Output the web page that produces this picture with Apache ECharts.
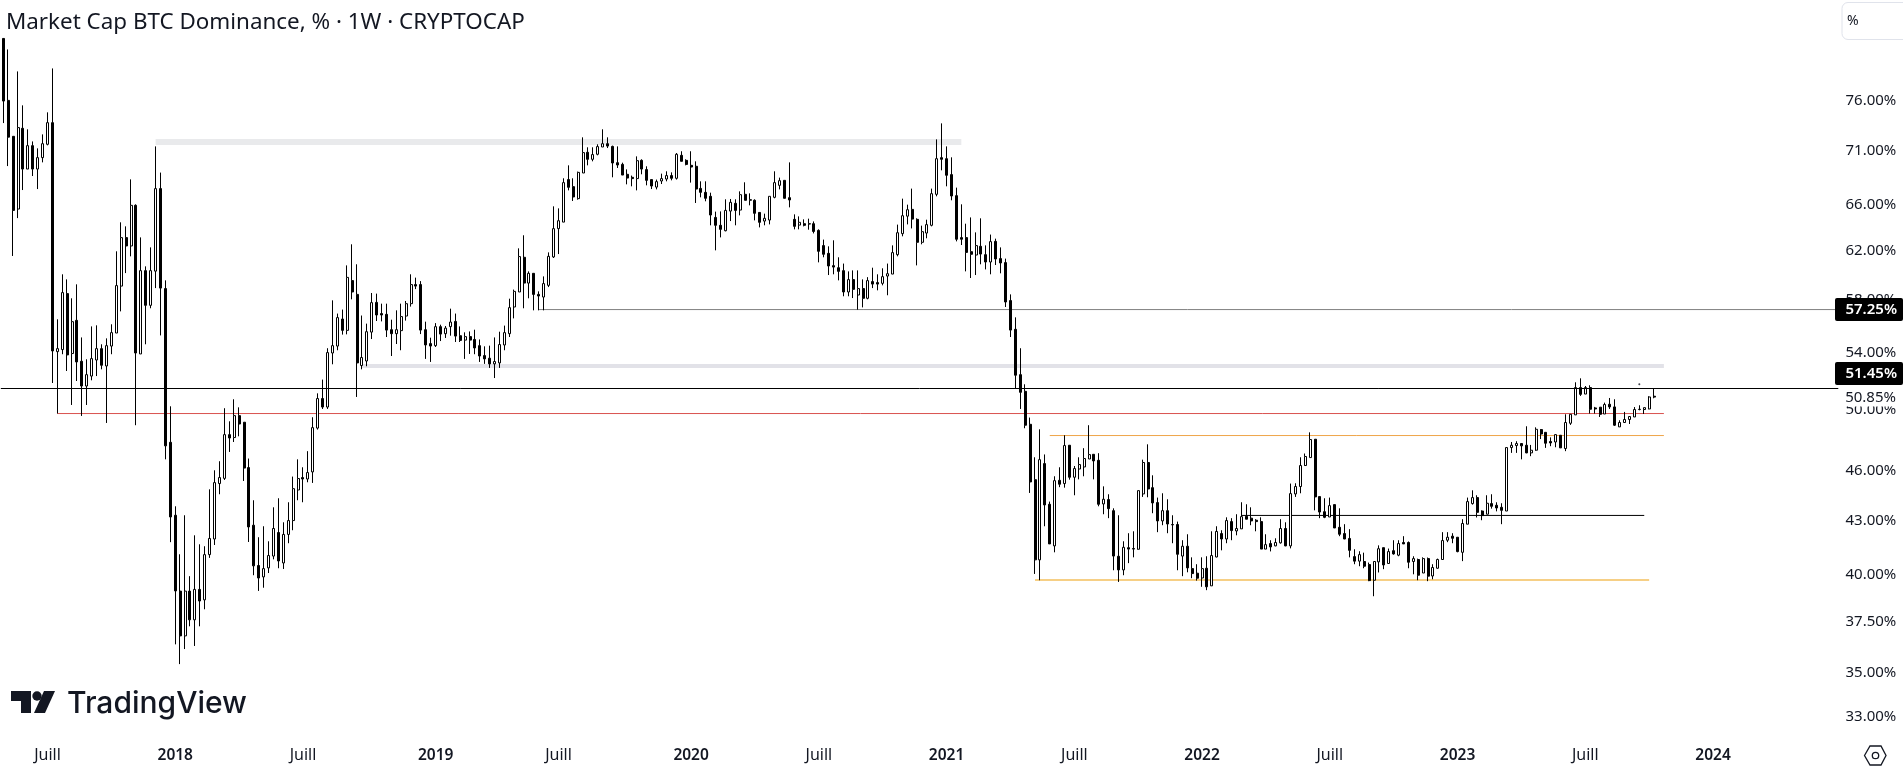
<!DOCTYPE html>
<html>
<head>
<meta charset="utf-8">
<title>Market Cap BTC Dominance</title>
<script src="https://cdn.jsdelivr.net/npm/echarts@6/dist/echarts.min.js"></script>
<style>
  html, body { margin: 0; padding: 0; background: #fff; }
  #chart { width: 1903px; height: 772px; }
</style>
</head>
<body>
<div id="chart"></div>
<script>
// weekly BTC dominance
const opens = [
  82.65,76.00,72.39,65.60,73.18,69.25,71.48,69.25,70.33,71.61,
  73.74,54.08,54.23,58.50,53.94,56.42,53.38,51.62,52.32,53.47,
  54.30,53.04,54.49,55.46,59.10,63.11,62.40,65.93,53.91,60.35,
  57.58,60.31,67.44,58.90,47.83,43.33,39.10,36.80,39.10,37.61,
  39.19,38.64,41.08,41.96,45.23,45.55,48.33,48.14,49.59,49.15,
  46.22,42.75,40.48,39.86,40.35,41.00,42.33,40.62,42.22,43.02,
  44.84,45.60,45.51,45.95,48.76,50.75,50.17,53.98,54.49,56.52,
  55.66,59.54,58.44,53.07,53.40,55.53,57.81,56.94,56.88,55.71,
  55.41,55.64,56.75,57.71,59.22,59.22,55.71,54.67,54.52,55.94,
  55.41,55.94,56.34,55.26,54.93,55.19,54.98,54.52,53.79,53.60,
  53.19,53.26,54.57,55.41,57.45,58.63,61.45,59.34,60.13,58.44,
  58.23,59.16,61.48,63.88,64.45,68.27,67.62,66.53,68.88,70.84,
  70.17,70.65,71.35,71.67,71.41,69.85,69.69,68.76,68.48,68.36,
  70.07,69.20,68.27,67.58,68.14,68.32,68.64,68.39,70.55,70.07,
  69.60,69.51,67.46,67.10,66.74,64.86,64.17,63.70,65.42,66.11,
  65.51,66.92,66.38,66.38,65.30,64.54,64.63,66.65,67.74,68.20,
  66.62,64.69,64.19,64.31,64.28,64.31,63.73,62.43,61.78,60.76,
  60.59,60.35,58.63,59.62,58.39,58.90,58.13,59.46,59.38,59.32,
  59.91,60.07,61.67,63.45,64.97,65.57,64.69,62.71,63.50,64.17,
  66.92,70.33,70.23,68.73,66.80,63.11,63.11,61.92,61.64,62.37,
  61.67,61.06,62.79,61.34,61.01,57.95,55.74,52.42,51.25,49.01,
  45.47,40.79,46.47,43.98,41.57,45.43,45.23,47.64,45.62,46.13,
  46.26,46.76,47.06,46.68,44.00,44.26,43.60,40.99,40.24,41.47,
  41.42,41.38,44.60,46.54,44.98,44.08,43.00,43.60,42.79,42.79,
  41.00,41.55,40.31,40.06,39.80,40.33,39.38,40.95,42.27,41.96,
  42.96,42.42,42.54,43.27,43.16,43.04,42.96,41.39,41.70,41.57,
  41.74,42.56,41.57,44.60,45.05,46.35,46.85,48.03,44.44,43.54,
  43.23,43.96,42.63,42.27,41.99,40.97,40.72,40.70,40.53,39.68,
  40.68,41.47,40.59,41.30,41.05,41.76,41.76,40.70,40.81,40.07,
  40.86,39.91,40.33,40.81,41.89,42.12,42.06,41.21,42.81,44.02,
  44.38,43.58,43.39,44.02,43.92,43.80,43.58,47.49,47.62,47.75,
  47.64,47.15,47.32,48.66,48.48,47.88,47.85,48.29,47.43,49.08,
  49.64,51.51,51.06,51.51,50.11,50.16,49.70,50.36,50.18,48.84,
  49.13,49.33,49.50,50.00,50.00,50.04,50.91
]
const closes = [
  75.93,72.31,65.48,73.25,69.25,71.48,69.25,70.33,71.67,73.74,
  54.13,54.30,58.58,53.84,56.32,53.33,51.62,52.42,53.57,54.30,
  53.09,54.52,55.49,59.14,63.11,62.40,65.93,53.98,60.35,57.58,
  60.35,67.44,58.94,47.60,43.23,39.11,36.80,39.10,37.61,39.19,
  38.58,41.08,41.99,45.29,45.60,48.33,48.11,49.59,49.03,46.19,
  42.65,40.46,39.80,40.31,41.03,42.56,40.73,42.22,43.02,44.92,
  45.54,45.51,45.91,48.79,50.75,50.17,54.01,54.52,56.63,55.66,
  59.80,58.63,53.26,53.65,55.56,57.79,56.83,56.83,55.68,55.41,
  55.71,56.71,57.71,59.22,59.10,55.68,54.57,54.49,55.94,55.38,
  55.83,56.29,55.23,54.91,55.19,54.93,54.35,53.76,53.55,53.19,
  53.36,54.60,55.49,57.40,58.68,61.51,59.34,60.13,58.44,58.31,
  59.30,61.53,63.88,64.57,67.99,67.56,66.68,68.94,70.81,70.17,
  70.62,71.39,71.67,71.44,69.82,69.63,68.69,68.41,68.36,70.04,
  69.25,68.20,67.68,68.08,68.36,68.64,68.39,70.65,69.98,69.69,
  69.44,67.40,67.10,66.56,65.07,64.17,63.82,65.48,66.20,65.48,
  66.89,66.38,66.44,65.22,64.43,64.78,66.74,67.99,68.17,66.56,
  66.41,64.08,64.43,64.17,64.31,63.64,61.95,61.70,60.73,60.64,
  60.29,58.63,59.62,58.84,58.90,58.13,59.54,59.26,59.26,59.86,
  60.10,61.84,63.53,65.01,65.54,64.71,62.71,63.62,64.23,66.98,
  70.23,70.17,68.67,66.77,62.97,62.97,61.86,61.70,62.43,61.72,
  61.06,62.77,61.31,60.98,57.84,55.68,52.38,51.18,48.95,45.33,
  40.79,46.72,43.94,41.68,45.41,45.19,47.62,45.62,46.16,46.41,
  46.79,47.04,46.64,43.98,44.28,43.72,41.00,40.24,41.49,41.39,
  41.39,44.80,46.54,44.90,44.06,43.00,43.60,42.82,42.77,41.10,
  41.55,40.35,40.04,39.79,40.31,39.33,41.03,42.39,41.96,43.02,
  42.44,42.56,43.25,43.10,43.00,42.96,41.39,41.64,41.51,41.76,
  42.56,41.57,44.62,45.05,46.35,46.92,48.01,44.42,43.52,43.21,
  43.90,42.59,42.23,41.96,41.32,40.72,41.08,40.44,39.66,40.70,
  41.41,40.51,41.25,41.12,41.70,41.68,40.66,40.86,39.95,40.86,
  39.90,40.37,40.81,41.87,42.06,42.00,41.25,42.85,44.14,44.38,
  43.50,43.31,44.04,43.86,43.76,43.62,47.49,47.64,47.75,47.60,
  47.15,47.32,48.68,48.37,47.77,47.79,48.33,47.47,49.13,49.68,
  51.51,51.04,51.51,50.02,50.04,49.68,50.34,50.18,48.95,49.13,
  49.33,49.53,50.00,50.02,50.13,50.86,50.85
]
const lows = [
  73.70,69.53,61.56,64.80,67.31,69.25,68.60,67.40,69.88,71.51,
  51.83,49.73,53.89,52.68,50.31,51.97,49.57,50.31,52.02,52.32,
  52.80,49.10,53.89,55.46,57.11,60.15,61.53,48.95,53.91,54.62,
  57.35,58.94,55.28,46.74,41.78,36.38,35.42,36.15,37.28,36.30,
  37.28,38.15,40.90,41.62,44.58,45.45,47.21,47.85,48.22,45.39,
  41.79,39.95,39.11,39.28,40.07,40.82,40.33,40.29,41.72,42.46,
  44.22,44.10,45.31,45.27,48.66,50.04,50.04,53.16,54.18,55.34,
  55.36,58.05,50.86,52.80,53.02,55.01,56.37,56.34,55.16,53.76,
  54.64,54.18,56.40,57.48,58.86,55.38,53.55,53.33,54.42,54.86,
  55.09,55.26,54.79,54.79,53.55,53.91,53.89,53.33,53.19,52.90,
  52.18,52.90,54.18,55.16,56.57,58.63,57.35,58.13,57.19,57.19,
  57.19,59.02,61.39,61.72,64.45,67.28,66.32,66.44,68.88,69.60,
  69.98,70.55,71.35,71.25,68.48,69.35,68.69,67.83,67.65,67.28,
  68.76,67.74,67.40,67.37,67.86,68.11,68.20,68.27,69.98,69.60,
  67.99,66.14,66.65,66.29,64.17,62.03,63.13,63.65,64.54,64.17,
  65.04,66.38,65.93,64.60,63.99,64.17,64.25,66.56,67.37,66.56,
  65.75,63.82,63.82,64.08,63.79,63.47,61.03,61.45,59.99,60.05,
  59.56,58.29,58.29,58.15,57.24,57.42,58.05,58.94,58.76,59.16,
  58.37,60.07,61.53,63.22,64.25,63.90,60.78,62.54,63.05,64.08,
  66.74,69.13,67.65,66.38,62.79,62.48,60.29,59.75,59.99,60.87,
  60.45,60.05,60.81,60.13,57.45,55.16,51.41,50.04,48.75,44.66,
  40.02,39.68,42.69,41.68,41.21,45.01,44.98,45.47,44.52,45.49,
  45.68,46.76,45.49,43.86,43.39,43.16,40.22,39.59,39.95,40.61,
  40.93,41.36,44.42,44.40,43.45,42.35,42.75,42.29,41.72,40.22,
  39.90,40.11,39.79,39.66,39.33,39.15,39.38,40.93,41.32,41.72,
  41.89,42.17,42.54,43.10,42.75,42.40,41.39,41.39,41.26,41.55,
  41.70,41.55,41.43,44.42,44.64,46.32,46.85,43.62,43.16,43.16,
  43.23,42.59,42.12,41.95,40.93,40.55,40.44,40.33,39.63,38.83,
  40.10,40.28,40.59,41.08,40.99,41.68,40.33,40.00,39.68,40.07,
  39.63,39.73,40.31,40.81,41.78,41.72,41.21,40.72,42.81,43.96,
  43.20,43.04,43.39,43.72,43.56,42.81,43.58,47.15,47.15,46.74,
  47.13,46.94,47.28,48.04,47.47,47.58,47.51,47.47,47.26,48.97,
  49.64,50.93,51.06,49.73,49.73,49.50,49.70,50.04,48.90,48.84,
  49.10,49.03,49.50,49.95,49.70,50.02,50.77
]
const highs = [
  82.65,81.43,72.39,79.04,75.49,73.08,71.89,71.22,72.58,74.78,
  79.36,56.50,60.05,59.64,58.13,59.24,55.13,53.52,55.96,56.04,
  54.62,55.06,56.12,61.95,64.43,64.08,68.29,66.02,63.13,60.70,
  62.28,71.41,68.92,59.56,50.22,43.86,41.10,43.33,39.90,42.17,
  41.66,41.55,44.88,46.05,46.62,50.09,49.21,50.70,50.15,49.15,
  46.79,44.22,42.06,42.69,41.83,43.80,44.34,42.92,44.10,45.66,
  46.74,46.24,47.26,49.48,51.11,52.07,54.33,57.97,56.94,57.25,
  60.78,62.54,60.87,56.79,56.17,58.55,58.50,57.71,57.71,56.47,
  57.19,57.71,57.92,60.05,59.78,59.50,56.32,55.11,56.21,56.09,
  55.99,57.32,56.94,55.96,55.51,55.58,55.71,54.98,54.47,54.52,
  55.13,55.56,56.02,58.10,58.82,62.20,63.31,60.29,60.13,58.68,
  59.88,61.86,65.84,65.66,68.39,69.60,68.39,69.01,72.29,71.32,
  71.32,71.61,73.08,72.29,71.48,71.41,69.85,69.22,68.64,70.45,
  70.17,69.51,68.27,68.27,68.82,69.04,68.94,70.77,70.94,70.17,
  70.94,69.98,68.11,68.11,67.07,65.37,65.39,66.47,66.50,66.47,
  67.19,68.02,67.01,66.47,65.30,65.19,66.74,69.04,68.45,68.20,
  69.88,65.13,64.95,64.69,64.75,64.51,63.82,62.94,62.37,62.88,
  61.45,60.93,60.29,60.37,60.37,59.64,59.82,60.59,60.05,60.54,
  60.93,62.45,64.23,66.53,65.99,67.44,64.78,64.14,64.66,67.44,
  72.09,73.67,71.41,70.36,67.53,66.02,64.31,64.86,63.56,64.78,
  62.45,63.37,63.02,62.28,61.34,58.44,56.65,54.33,51.74,49.46,
  46.87,48.68,47.05,44.14,45.68,46.24,48.29,47.64,46.32,46.87,
  47.45,48.95,47.06,47.13,45.06,44.58,43.74,43.33,41.83,42.29,
  42.40,44.80,46.72,47.70,45.74,44.38,44.64,44.28,43.33,42.96,
  41.89,42.23,40.93,40.55,40.93,40.99,42.40,42.69,42.46,43.21,
  43.16,43.39,44.10,43.98,43.80,43.10,43.21,42.23,41.89,42.00,
  43.10,42.92,45.23,45.25,46.87,47.11,48.48,48.03,44.44,44.34,
  44.38,43.96,43.74,42.81,42.52,41.38,41.27,41.19,40.64,40.70,
  41.60,41.47,41.42,41.89,41.89,42.12,41.82,40.99,40.86,40.93,
  40.92,40.55,40.86,42.35,42.35,42.29,42.06,43.10,44.38,44.82,
  44.52,43.62,44.52,44.58,44.10,44.04,47.49,47.85,47.90,47.75,
  48.88,47.66,48.81,48.70,48.48,48.15,48.35,48.29,49.68,49.68,
  51.88,52.16,51.62,51.67,50.18,50.16,50.47,50.79,50.70,49.28,
  49.84,49.53,50.17,50.29,50.13,50.91,51.44
]

const firstWeek = '2017-05-01'
const slotCount = 374

const tickDates = ['2017-07-03', '2018-01-01', '2018-07-02', '2019-01-07', '2019-07-01', '2020-01-06', '2020-07-06',
  '2021-01-04', '2021-07-05', '2022-01-03', '2022-07-04', '2023-01-02', '2023-07-03', '2024-01-01']
const tickLabels = ['Juill', '2018', 'Juill', '2019', 'Juill', '2020', 'Juill', '2021', 'Juill', '2022', 'Juill', '2023', 'Juill', '2024']
const priceTicks = [33, 35, 37.5, 40, 43, 46, 50, 54, 58, 62, 66, 71, 76]

// drawn levels: price, first week index, last week index
const levelPrices = [71.83, 57.25, 53.04, 49.73, 48.27, 43.32, 39.69]
const levelStarts = [31, 109, 73, 11, 213, 252, 210]
const levelEnds = [195, 373, 338, 338, 338, 334, 335]
const levelStyles = [
  { color: '#e9eaec', width: 6 },
  { color: '#808080', width: 1 },
  { color: '#e2e2e8', width: 4 },
  { color: '#d9524f', width: 1 },
  { color: '#efa64a', width: 1 },
  { color: '#000000', width: 1 },
  { color: '#f6cf85', width: 2 }
]
const lastHighLine = 51.45
const strayPoint = [333, 51.74]

const axisFont = '"Noto Sans", sans-serif'

// weekly slots, some run past the last candle up to the price scale
const categories = []
for (let i = 0; i < slotCount; i++) {
  const d = new Date(Date.parse(firstWeek) + i * 7 * 86400000)
  categories.push(d.toISOString().slice(0, 10))
}

const candles = opens.map(function (o, i) {
  return [o, closes[i], lows[i], highs[i]]
})

const levelSeries = levelPrices.map(function (price, i) {
  return {
    type: 'line',
    silent: true,
    symbol: 'none',
    z: 1,
    lineStyle: { color: levelStyles[i].color, width: levelStyles[i].width },
    data: [[levelStarts[i], price], [levelEnds[i], price]]
  }
})

const chart = echarts.init(document.getElementById('chart'), null, { renderer: 'canvas' })

chart.setOption({
  backgroundColor: '#ffffff',
  animation: false,
  title: {
    text: 'Market Cap BTC Dominance, % · 1W · CRYPTOCAP',
    left: 1,
    top: 7,
    textStyle: { fontFamily: axisFont, fontSize: 22.4, fontWeight: 400, color: '#131722' }
  },
  grid: { left: 0.84, right: 64.7, top: 0.4, bottom: 27.6 },
  xAxis: {
    type: 'category',
    data: categories,
    boundaryGap: true,
    axisLine: { show: false },
    axisTick: { show: false },
    splitLine: { show: false },
    axisLabel: {
      margin: 3,
      interval: function (index, value) {
        return tickDates.indexOf(value) >= 0
      },
      formatter: function (value) {
        const label = tickLabels[tickDates.indexOf(value)]
        return label === 'Juill' ? label : '{year|' + label + '}'
      },
      fontFamily: axisFont,
      fontSize: 16,
      color: '#131722',
      rich: {
        year: { fontFamily: axisFont, fontSize: 15.5, fontWeight: 600, color: '#131722' }
      }
    }
  },
  yAxis: {
    type: 'log',
    logBase: 10,
    position: 'right',
    min: 31.77,
    max: 87.02,
    axisLine: { show: false },
    axisTick: { show: false },
    splitLine: { show: false },
    axisLabel: {
      customValues: priceTicks,
      margin: 58,
      align: 'right',
      fontFamily: axisFont,
      fontSize: 15,
      color: '#131722',
      formatter: function (value) {
        return Number(value).toFixed(2) + '%'
      }
    }
  },
  series: levelSeries.concat([
    {
      type: 'line',
      silent: true,
      symbol: 'none',
      z: 1,
      data: [],
      markLine: {
        silent: true,
        symbol: 'none',
        label: { show: false },
        lineStyle: { color: '#000000', width: 1, type: 'solid' },
        data: [{ yAxis: lastHighLine }]
      }
    },
    {
      type: 'candlestick',
      z: 3,
      // 2.5 keeps every body at 3px after echarts snaps the edges to pixels
      barWidth: 2.5,
      itemStyle: {
        color: '#ffffff',
        color0: '#000000',
        borderColor: '#000000',
        borderColor0: '#000000',
        borderColorDoji: '#000000',
        borderWidth: 1
      },
      data: candles
    },
    {
      type: 'scatter',
      silent: true,
      symbolSize: 2,
      z: 3,
      itemStyle: { color: '#131722' },
      data: [strayPoint]
    }
  ]),
  graphic: [
    // price badges and last value over the scale
    { type: 'rect', z: 20, shape: { x: 1835, y: 298, width: 68, height: 23, r: 2 }, style: { fill: '#000000' } },
    { type: 'text', z: 21, x: 1897, y: 309.5, style: { text: '57.25%', fill: '#ffffff', font: '600 15px "Noto Sans"', align: 'right', verticalAlign: 'middle' } },
    { type: 'rect', z: 20, shape: { x: 1835, y: 362, width: 68, height: 23, r: 2 }, style: { fill: '#000000' } },
    { type: 'text', z: 21, x: 1897, y: 374, style: { text: '51.45%', fill: '#ffffff', font: '600 15px "Noto Sans"', align: 'right', verticalAlign: 'middle' } },
    { type: 'rect', z: 20, shape: { x: 1840, y: 389, width: 60, height: 17.5 }, style: { fill: '#ffffff' } },
    { type: 'text', z: 21, x: 1896, y: 398, style: { text: '50.85%', fill: '#131722', font: '15px "Noto Sans"', align: 'right', verticalAlign: 'middle' } },
    // unit box
    { type: 'rect', z: 20, shape: { x: 1842, y: 2.5, width: 70, height: 37, r: 6 }, style: { fill: '#ffffff', stroke: '#e0e3eb', lineWidth: 1 } },
    { type: 'text', z: 21, x: 1847, y: 21, style: { text: '%', fill: '#131722', font: '14px "Noto Sans"', verticalAlign: 'middle' } },
    // settings icon
    { type: 'polygon', z: 20, shape: { points: [[1864.5, 755.5], [1870, 746], [1881, 746], [1886, 755.5], [1881, 765], [1870, 765]] }, style: { fill: 'none', stroke: '#131722', lineWidth: 1.3 } },
    { type: 'circle', z: 20, shape: { cx: 1875.5, cy: 755.5, r: 3.2 }, style: { fill: 'none', stroke: '#131722', lineWidth: 1.3 } },
    // logo
    { type: 'polygon', z: 20, shape: { points: [[11, 691], [31, 691], [31, 713], [21, 713], [21, 701], [11, 701]] }, style: { fill: '#131722' } },
    { type: 'circle', z: 20, shape: { cx: 37, cy: 696, r: 4.7 }, style: { fill: '#131722' } },
    { type: 'polygon', z: 20, shape: { points: [[44, 691], [55, 691], [45, 713], [34, 713]] }, style: { fill: '#131722' } },
    { type: 'text', z: 20, x: 67, y: 704, style: { text: 'TradingView', fill: '#131722', font: '500 30px Inter', verticalAlign: 'middle' } }
  ]
})
</script>
</body>
</html>
